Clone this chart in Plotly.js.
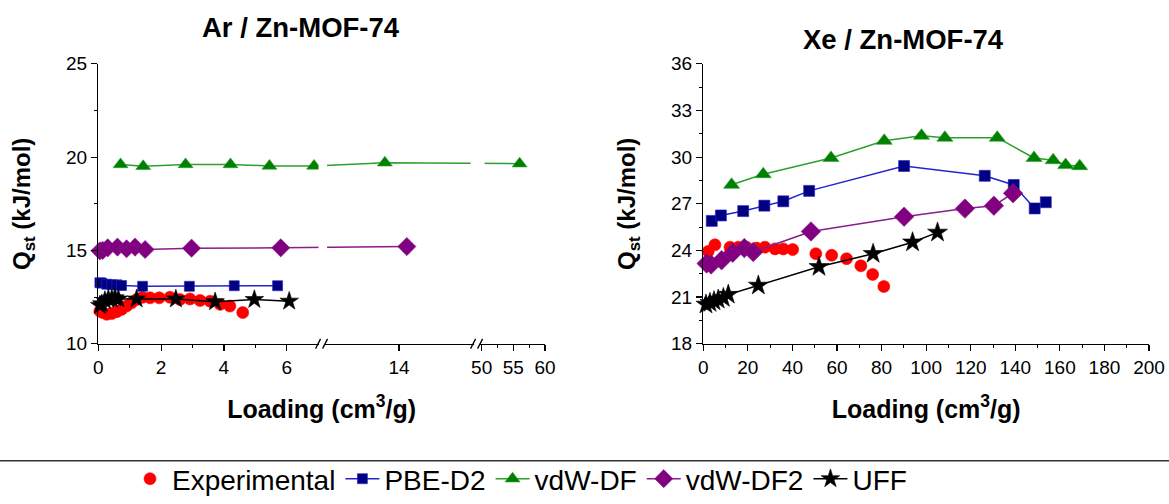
<!DOCTYPE html>
<html>
<head>
<meta charset="utf-8">
<script src="https://cdn.plot.ly/plotly-3.0.1.min.js"></script>
<style>html,body{margin:0;padding:0;background:#fff;}#chart{width:1169px;height:504px;}</style>
</head>
<body>
<div id="chart"></div>
<script>
// ---------- Data: Ar / Zn-MOF-74 (loading cm3/g, Qst kJ/mol) ----------
const arExpX  = [0.05,0.14,0.27,0.43,0.59,0.74,0.90,1.06,1.22,1.41,1.65,1.94,2.28,2.60,2.92,3.24,3.56,3.88,4.19,4.60];
const arExpY  = [11.75,11.67,11.58,11.62,11.72,11.84,12.02,12.19,12.37,12.49,12.46,12.46,12.49,12.37,12.40,12.32,12.28,12.11,12.02,11.67];
const arPbeX  = [0.05,0.11,0.27,0.43,0.59,0.74,1.41,2.90,4.33,5.71];
const arPbeY  = [13.27,13.25,13.19,13.16,13.16,13.12,13.08,13.08,13.11,13.11];
const arVdwX  = [0.71,1.43,2.78,4.21,5.45,6.87,12.9,56.0];
const arVdwY  = [19.61,19.51,19.61,19.61,19.53,19.53,19.70,19.65];
const arVdw2X = [0.05,0.14,0.30,0.61,0.90,1.17,1.49,2.97,5.81,14.6];
const arVdw2Y = [14.98,15.00,15.14,15.18,15.09,15.18,15.05,15.12,15.14,15.21];
const arUffX  = [0.05,0.11,0.21,0.32,0.43,0.53,0.64,1.22,2.47,3.72,4.97,6.08];
const arUffY  = [12.05,12.14,12.32,12.40,12.40,12.46,12.40,12.40,12.40,12.25,12.37,12.28];

// ---------- Data: Xe / Zn-MOF-74 ----------
const xeExpX  = [2.2,5.2,12.0,15.7,19.4,23.9,27.7,32.2,35.9,40.1,50.5,57.6,64.3,70.7,76.0,81.0];
const xeExpY  = [23.94,24.36,24.21,24.21,24.21,24.15,24.21,24.10,24.10,24.06,23.79,23.69,23.47,23.01,22.46,21.68];
const xePbeX  = [3.8,7.9,17.9,27.4,35.9,47.5,90.1,126.3,139.3,148.7,153.7];
const xePbeY  = [25.90,26.25,26.53,26.88,27.16,27.83,29.43,28.80,28.21,26.70,27.10];
const xeVdwX  = [12.7,26.9,57.3,81.2,97.9,108.4,131.9,148.4,157.0,162.6,168.9];
const xeVdwY  = [28.22,28.90,29.95,31.05,31.38,31.25,31.25,29.95,29.80,29.49,29.42];
const xeVdw2X = [1.5,3.5,8.2,13.2,18.4,22.4,48.3,90.1,117.4,130.4,139.0];
const xeVdw2Y = [23.16,23.10,23.37,23.85,24.15,23.90,25.22,26.17,26.69,26.88,27.68];
const xeUffX  = [1.2,3.0,4.8,6.7,9.0,11.2,24.7,51.9,76.2,93.9,105.1];
const xeUffY  = [20.53,20.63,20.74,20.84,20.95,21.16,21.75,22.95,23.79,24.53,25.16];

// ---------- Tick labels ----------
const arTickVals  = [0,2,4,6,14,50,55,60];
const arTickText  = ['0','2','4','6','14','50','55','60'];
const arMinorVals = [1,3,5,52.5,57.5];

// ---------- Broken x-axis scale for the Ar panel ----------
// three segments: [0, 7.11], [8, 20], [49.2, 60]
const SEG1_END = 7.11, SEG2_START = 8, SEG2_END = 20, SEG3_START = 49.2, SEG3_END = 60;
const K1 = 31.4, K2 = 12.92, K3 = 6.33;
const B1 = SEG1_END * K1;
const B2 = B1 + (SEG2_END - SEG2_START) * K2;
const UMAX = B2 + (SEG3_END - SEG3_START) * K3;
function brk(x) {
  if (x <= SEG1_END) return x * K1;
  if (x <= SEG2_END) return B1 + (x - SEG2_START) * K2;
  return B2 + (x - SEG3_START) * K3;
}
const m = a => a.map(brk);

const FONT = 'Liberation Sans, Arial, sans-serif';
const C = {
  exp:  {m:'#FF0000', l:'#FF0000'},
  pbe:  {m:'#000080', l:'#2424C8'},
  vdw:  {m:'#008000', l:'#2CA02C'},
  vdw2: {m:'#800080', l:'#8B1C8B'},
  uff:  {m:'#000000', l:'#000000'}
};

function mk(name, x, y, xa, ya, col, sym, size, lines, show) {
  return {
    type:'scatter', name:name, x:x, y:y, xaxis:xa, yaxis:ya,
    mode: lines ? 'lines+markers' : 'markers',
    line:{color:col.l, width:1.5},
    marker:{color:col.m, symbol:sym, size:size, line:{width:0.6, color:col.l}},
    legendgroup:name, showlegend:show, cliponaxis:false
  };
}

const traces = [
  mk('Experimental', m(arExpX), arExpY, 'x','y', C.exp, 'circle', 12, false, true),
  mk('PBE-D2', m(arPbeX), arPbeY, 'x','y', C.pbe, 'square', 10, true, true),
  mk('vdW-DF', m(arVdwX), arVdwY, 'x','y', C.vdw, 'triangle-up', 13, true, true),
  mk('vdW-DF2', m(arVdw2X), arVdw2Y, 'x','y', C.vdw2, 'diamond', 14, true, true),
  mk('UFF', m(arUffX), arUffY, 'x','y', C.uff, 'star', 14, true, true),
  mk('Experimental', xeExpX, xeExpY, 'x2','y2', C.exp, 'circle', 12, false, false),
  mk('PBE-D2', xePbeX, xePbeY, 'x2','y2', C.pbe, 'square', 11, true, false),
  mk('vdW-DF', xeVdwX, xeVdwY, 'x2','y2', C.vdw, 'triangle-up', 14, true, false),
  mk('vdW-DF2', xeVdw2X, xeVdw2Y, 'x2','y2', C.vdw2, 'diamond', 15, true, false),
  mk('UFF', xeUffX, xeUffY, 'x2','y2', C.uff, 'star', 15, true, false)
];

const W = 1169, H = 504;
const yDom = [1 - 350/H, 1 - 65/H];
const axBase = {
  showline:true, linecolor:'#000', linewidth:1.3, mirror:false,
  ticks:'outside', ticklen:6, tickwidth:1.2, tickcolor:'#000',
  showgrid:false, zeroline:false,
  tickfont:{family:FONT, size:19, color:'#000'}
};
const xTitle = {text:'<b>Loading (cm<sup>3</sup>/g)</b>', font:{family:FONT, size:25, color:'#000'}, standoff:23};
const yTitle = {text:'<b>Q<sub>st</sub> (kJ/mol)</b>', font:{family:FONT, size:24, color:'#000'}, standoff:28};

const pY = py => 1 - py/H;
const shapes = [];
// white gaps on data lines at breaks
[[B1-3, B1+5.5],[B2-6, B2+8]].forEach(g => {
  shapes.push({type:'rect', xref:'x', yref:'paper', x0:g[0], x1:g[1], y0:pY(347), y1:pY(66), fillcolor:'#fff', line:{width:0}, layer:'above'});
});
// axis break marks "//"
[B1, B2].forEach(b => {
  shapes.push({type:'rect', xref:'x', yref:'paper', x0:b-2.5, x1:b+2.5, y0:pY(353), y1:pY(347), fillcolor:'#fff', line:{width:0}, layer:'above'});
  shapes.push({type:'line', xref:'x', yref:'paper', x0:b-6, x1:b-1, y0:pY(355), y1:pY(345), line:{color:'#000', width:1.3}, layer:'above'});
  shapes.push({type:'line', xref:'x', yref:'paper', x0:b+1, x1:b+6, y0:pY(355), y1:pY(345), line:{color:'#000', width:1.3}, layer:'above'});
});
// separator line above legend
shapes.push({type:'line', xref:'paper', yref:'paper', x0:0, x1:1, y0:pY(469), y1:pY(469), line:{color:'#333', width:1.5}});

const layout = {
  width:W, height:H,
  margin:{l:0, r:0, t:0, b:0, pad:0},
  paper_bgcolor:'#fff', plot_bgcolor:'#fff',
  font:{family:FONT, color:'#000'},
  xaxis:Object.assign({}, axBase, {
    domain:[98.3/W, (98.3+UMAX)/W], range:[0, UMAX], anchor:'y',
    tickmode:'array', tickvals:m(arTickVals), ticktext:arTickText,
    minor:{tickmode:'array', tickvals:m(arMinorVals), ticks:'outside', ticklen:3, tickcolor:'#000', tickwidth:1},
    title:xTitle
  }),
  yaxis:Object.assign({}, axBase, {
    domain:yDom, range:[10,25], dtick:5, anchor:'x',
    minor:{dtick:2.5, ticks:'outside', ticklen:3, tickcolor:'#000', tickwidth:1},
    title:yTitle
  }),
  xaxis2:Object.assign({}, axBase, {
    domain:[703.3/W, 1149/W], range:[0,200], dtick:20, anchor:'y2',
    minor:{dtick:10, ticks:'outside', ticklen:3, tickcolor:'#000', tickwidth:1},
    title:xTitle
  }),
  yaxis2:Object.assign({}, axBase, {
    domain:yDom, range:[18,36], dtick:3, anchor:'x2',
    minor:{dtick:1.5, ticks:'outside', ticklen:3, tickcolor:'#000', tickwidth:1},
    title:yTitle
  }),
  annotations:[
    {text:'<b>Ar / Zn-MOF-74</b>', xref:'paper', yref:'paper', x:301/W, y:pY(28), xanchor:'center', yanchor:'middle', showarrow:false, font:{family:FONT, size:27.5, color:'#000'}},
    {text:'<b>Xe / Zn-MOF-74</b>', xref:'paper', yref:'paper', x:903/W, y:pY(40), xanchor:'center', yanchor:'middle', showarrow:false, font:{family:FONT, size:27.5, color:'#000'}}
  ],
  shapes:shapes,
  showlegend:true,
  legend:{orientation:'h', x:128/W, xanchor:'left', y:pY(488), yanchor:'middle',
    font:{family:FONT, size:28, color:'#000'}, bgcolor:'rgba(0,0,0,0)', itemwidth:34, tracegroupgap:0}
};

Plotly.newPlot('chart', traces, layout, {staticPlot:true, displayModeBar:false});
</script>
</body>
</html>
